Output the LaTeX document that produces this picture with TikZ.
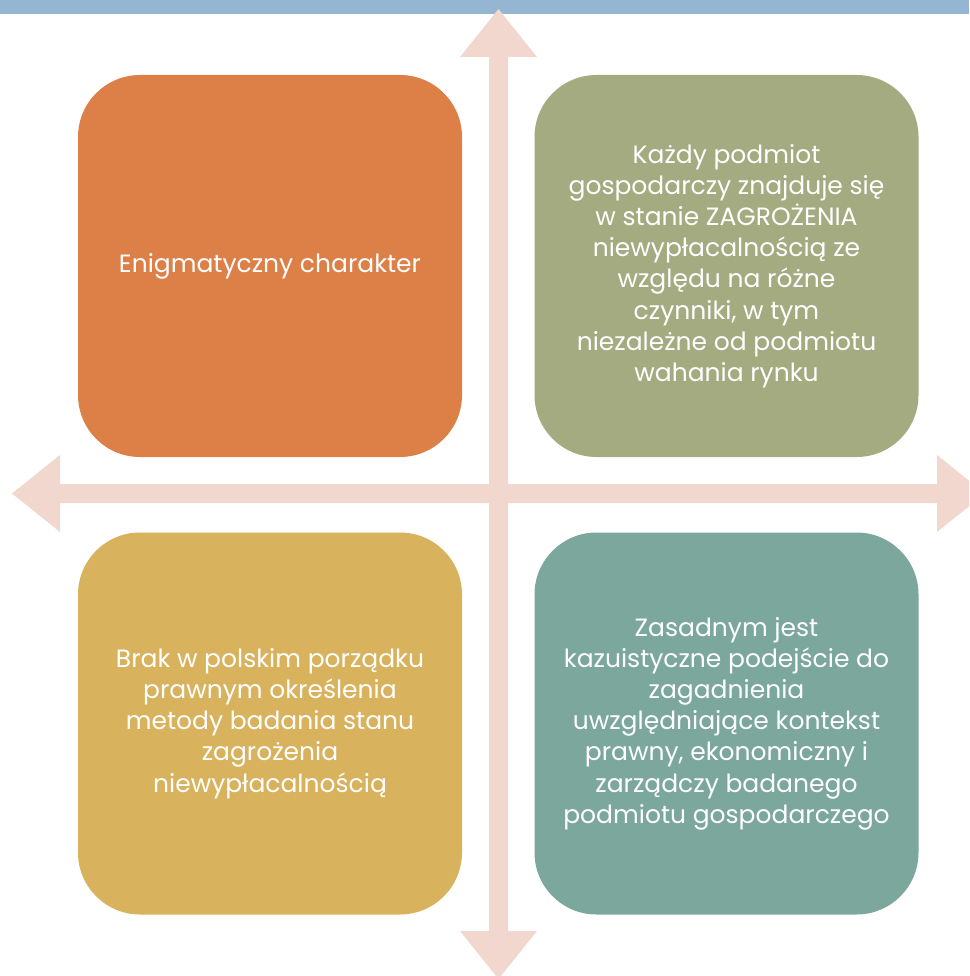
\documentclass[tikz,border=0pt]{standalone}
\usepackage{fontspec}
\setmainfont{Poppins}
\definecolor{band}{HTML}{94B6D2}
\definecolor{pinkarrow}{HTML}{F2D7CE}
\definecolor{cOrange}{HTML}{DD8047}
\definecolor{cOlive}{HTML}{A5AB81}
\definecolor{cGold}{HTML}{D8B25C}
\definecolor{cTeal}{HTML}{7BA79D}
\tikzset{
  quad/.style={fill=#1, draw=none, rounded corners=62pt, minimum width=384pt, minimum height=382pt,
    inner sep=0pt, align=center, text=white, font=\fontsize{25}{31.2}\selectfont},
}
\begin{document}
\begin{tikzpicture}[x=1pt,y=-1pt]
\useasboundingbox (0,0) rectangle (969,976);
\clip (0,0) rectangle (969,976);
% top band
\fill[band] (0,0) rectangle (969,14);
% vertical double arrow
\fill[pinkarrow] (498.5,9) -- (537,57) -- (508,57) -- (508,931) -- (537,931) -- (498.5,979)
  -- (460,931) -- (489,931) -- (489,57) -- (460,57) -- cycle;
% horizontal double arrow
\fill[pinkarrow] (12,493.5) -- (60,455) -- (60,484) -- (937,484) -- (937,455) -- (985,493.5)
  -- (937,532) -- (937,503) -- (60,503) -- (60,532) -- cycle;
% quadrants
\node[quad=cOrange] (tl) at (270,266) {Enigmatyczny charakter};
\node[quad=cOlive] (tr) at (726.5,266) {Każdy podmiot\\gospodarczy znajduje się\\w stanie ZAGROŻENIA\\niewypłacalnością ze\\względu na różne\\czynniki, w tym\\niezależne od podmiotu\\wahania rynku};
\node[quad=cGold] (bl) at (270,723.5) {Brak w polskim porządku\\prawnym określenia\\metody badania stanu\\zagrożenia\\niewypłacalnością};
\node[quad=cTeal] (br) at (726.5,723.5) {Zasadnym jest\\kazuistyczne podejście do\\zagadnienia\\uwzględniające kontekst\\prawny, ekonomiczny i\\zarządczy badanego\\podmiotu gospodarczego};
\end{tikzpicture}
\end{document}
